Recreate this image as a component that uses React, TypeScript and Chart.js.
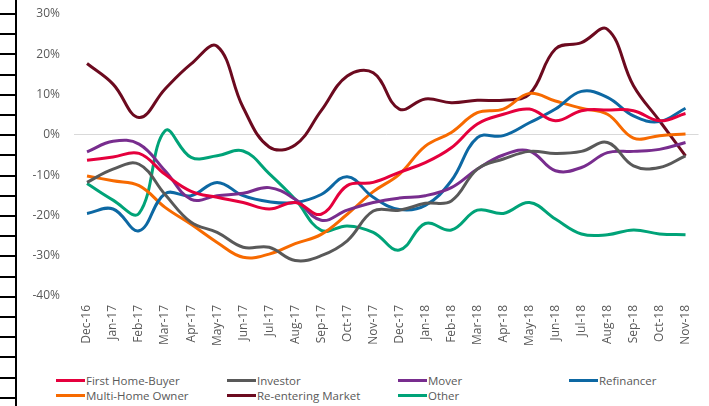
import React, { useEffect, useRef } from "react";
import { Chart, registerables } from "chart.js";

Chart.register(...registerables);

const months = [
  "Dec-16", "Jan-17", "Feb-17", "Mar-17", "Apr-17", "May-17", "Jun-17", "Jul-17",
  "Aug-17", "Sep-17", "Oct-17", "Nov-17", "Dec-17", "Jan-18", "Feb-18", "Mar-18",
  "Apr-18", "May-18", "Jun-18", "Jul-18", "Aug-18", "Sep-18", "Oct-18", "Nov-18",
];

const firstHomeBuyer = [-6.3, -5.5, -4.6, -9.8, -14, -15.5, -16.8, -18.4, -16.8, -19.7, -12.6, -11.8, -9.3, -6.9, -3.2, 2.7, 5.1, 6.4, 3.5, 6, 6.2, 6, 3.5, 5.3];
const investor = [-11.8, -8.5, -7.3, -14.8, -21.7, -24.2, -27.9, -27.9, -31.2, -30, -26.3, -18.9, -18.7, -17, -16.4, -8.5, -6, -4.1, -4.6, -4.1, -1.9, -7.7, -8.1, -5.2];
const mover = [-4.2, -1.6, -2.3, -8.9, -16, -15.1, -14.5, -13.1, -16, -21.2, -18.7, -16.8, -15.7, -15.1, -13.1, -8.5, -5, -4, -8.9, -8.1, -4.4, -4.1, -3.6, -1.9];
const refinancer = [-19.5, -18.4, -23.8, -14.6, -15.1, -11.8, -15.1, -16.6, -16.8, -14.8, -10.4, -15.5, -18.5, -17.5, -11.4, -0.7, -0.2, 3, 6.4, 10.8, 9.3, 4.7, 3.3, 6.6];
const multiHomeOwner = [-10.2, -11.4, -12.6, -18, -22.2, -26.7, -30.4, -29.6, -27, -24.7, -19.7, -14.1, -9.8, -2.8, 0.6, 5.5, 6.4, 10.3, 8.4, 6.6, 5.1, -0.8, -0.2, 0.2];
const reEnteringMarket = [17.7, 12.6, 4.3, 11.4, 17.6, 22, 6.8, -3, -2.5, 6, 14.6, 15.4, 6.4, 8.9, 8, 8.6, 8.6, 10.1, 21.3, 22.9, 26.2, 12.2, 3.5, -5.2];
const other = [-12.1, -16.2, -19.5, 1, -5.6, -5.2, -4, -9.6, -16, -23.7, -22.6, -24.2, -28.6, -22, -23.6, -18.7, -19.5, -16.8, -20.9, -24.6, -24.8, -23.6, -24.6, -24.8];

const yTicks = [-40, -30, -20, -10, 0, 10, 20, 30];

const seriesNames = ["First Home-Buyer", "Investor", "Mover", "Refinancer", "Multi-Home Owner", "Re-entering Market", "Other"];
const seriesColors = ["#E5003D", "#595959", "#782D8E", "#0D68A3", "#F76A00", "#6C0A1F", "#00A378"];
const seriesValues = [firstHomeBuyer, investor, mover, refinancer, multiHomeOwner, reEnteringMarket, other];

const FONT = "'Open Sans', 'Noto Sans', sans-serif";

export default function App() {
  const canvasRef = useRef<HTMLCanvasElement | null>(null);

  useEffect(() => {
    document.body.style.margin = "0";
    const canvas = canvasRef.current;
    if (!canvas) return;
    const chart = new Chart(canvas, {
      type: "line",
      data: {
        labels: months,
        datasets: seriesNames.map((name, i) => ({
          label: name,
          data: seriesValues[i],
          borderColor: seriesColors[i],
          backgroundColor: seriesColors[i],
          borderWidth: 3,
          pointRadius: 0,
          pointHoverRadius: 0,
          tension: 0.4,
          fill: false,
        })),
      },
      options: {
        animation: false,
        responsive: false,
        maintainAspectRatio: false,
        layout: { padding: { top: 14, right: 4, left: 0, bottom: 0 } },
        plugins: {
          legend: { display: false },
          tooltip: { enabled: false },
        },
        scales: {
          x: {
            offset: true,
            grid: { display: false, drawTicks: false },
            border: { display: false },
            ticks: {
              minRotation: 90,
              maxRotation: 90,
              autoSkip: false,
              padding: 9,
              color: "#595959",
              font: { family: FONT, size: 12 },
            },
            afterFit: (scale: any) => {
              scale.height = 64;
            },
          },
          y: {
            min: yTicks[0],
            max: yTicks[yTicks.length - 1],
            afterBuildTicks: (scale: any) => {
              scale.ticks = yTicks.map((v) => ({ value: v }));
            },
            grid: {
              drawTicks: false,
              color: (ctx: any) => (ctx.tick && ctx.tick.value === 0 ? "#D9D9D9" : "rgba(0,0,0,0)"),
              lineWidth: 1,
            },
            border: { display: false },
            ticks: {
              padding: 14,
              color: "#595959",
              font: { family: FONT, size: 12 },
              callback: (v: any) => `${v}%`,
            },
            afterFit: (scale: any) => {
              scale.width = 74;
              scale.paddingTop = 0;
              scale.paddingBottom = 0;
            },
          },
        },
      },
    });
    return () => chart.destroy();
  }, []);

  const order = [0, 1, 2, 3, 4, 5, 6];

  return (
    <div style={{ position: "relative", width: 709, height: 406, background: "#fff", overflow: "hidden" }}>
      <div
        style={{
          position: "absolute",
          left: 0,
          top: 13,
          width: 15,
          height: 387,
          background: "repeating-linear-gradient(to bottom, #000 0px, #000 2px, transparent 2px, transparent 20.2px)",
        }}
      />
      <div style={{ position: "absolute", left: 15, top: 0, width: 2, height: 406, background: "#000" }} />
      <canvas ref={canvasRef} width={709} height={360} style={{ position: "absolute", left: 0, top: 0, width: 709, height: 360 }} />
      <div
        style={{
          position: "absolute",
          left: 56,
          top: 373,
          width: 690,
          display: "grid",
          gridTemplateColumns: "171px 171px 171px 171px",
          gridAutoRows: "15px",
          fontFamily: FONT,
          fontSize: 11.5,
          color: "#595959",
        }}
      >
        {order.map((i) => (
          <div key={i} style={{ display: "flex", alignItems: "center", whiteSpace: "nowrap", lineHeight: "15px" }}>
            <span style={{ display: "inline-block", width: 29, height: 3, background: seriesColors[i], marginRight: 1 }} />
            <span>{seriesNames[i]}</span>
          </div>
        ))}
      </div>
    </div>
  );
}
